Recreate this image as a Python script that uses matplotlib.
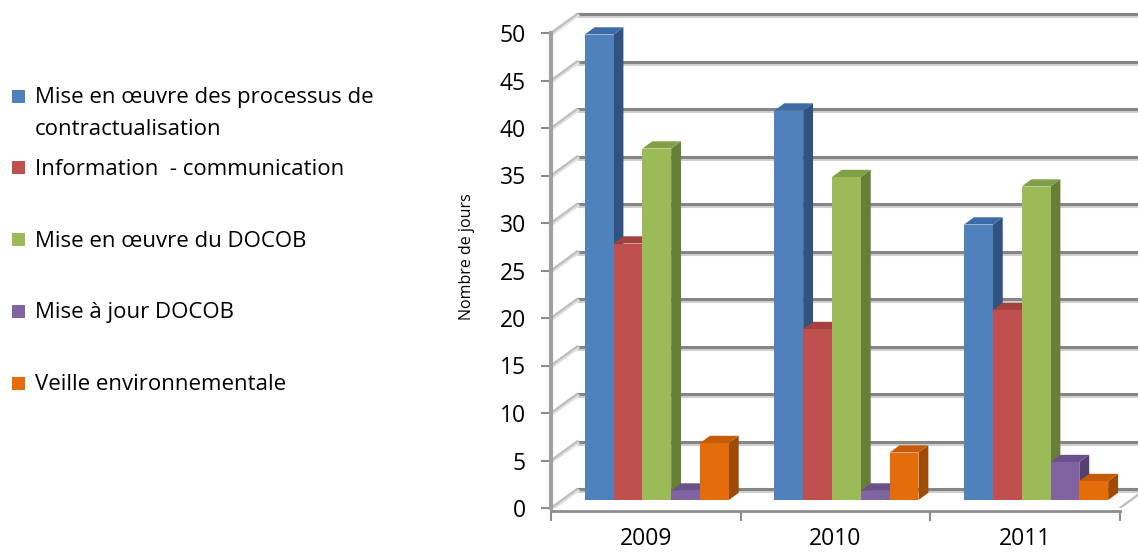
import matplotlib
matplotlib.use('Agg')
import matplotlib.pyplot as plt
from matplotlib.patches import Polygon, Rectangle
import matplotlib.patheffects as pe

# ---------------- data ----------------
categories = ['2009', '2010', '2011']
series_names = ['Mise en œuvre des processus de\ncontractualisation',
                'Information  - communication',
                'Mise en œuvre du DOCOB',
                'Mise à jour DOCOB',
                'Veille environnementale']
contractualisation = [49, 41, 29]
information_communication = [27, 18, 20]
mise_en_oeuvre_docob = [37, 34, 33]
mise_a_jour_docob = [1, 1, 4]
veille_environnementale = [6, 5, 2]
y_ticks = [0, 5, 10, 15, 20, 25, 30, 35, 40, 45, 50]
y_label = 'Nombre de jours'

series_values = [contractualisation, information_communication,
                 mise_en_oeuvre_docob, mise_a_jour_docob, veille_environnementale]

# colours: front, top, side
front_colors = ['#4F81BD', '#C0504D', '#9BBB59', '#8064A2', '#E46C0A']
top_colors = ['#3D6BA5', '#A5423F', '#809F46', '#6A518B', '#C65C07']
side_colors = ['#30537F', '#8A3532', '#687F3A', '#563F71', '#A04B05']

FONT = 'Open Sans'

# ---------------- layout ----------------
W, H = 1138, 552
fig = plt.figure(figsize=(W / 100, H / 100), dpi=100)
fig.patch.set_facecolor('white')

x0_px, x3_px = 551, 1120
y0_px, px_per_unit = 508, 9.5
unit_x = (x3_px - x0_px) / 3.0
ymax = 53.0
ax = fig.add_axes([x0_px / W, (H - y0_px) / H, (W - x0_px) / W,
                   ymax * px_per_unit / H])
ax.set_xlim(0, (W - x0_px) / unit_x)
ax.set_ylim(0, ymax)
ax.set_facecolor('none')

# 3-D depth offsets (data units)
DX, DY = 26 / unit_x, 19 / px_per_unit
f0, f1 = 0.42, 0.80
bw = 0.152
n_series = len(series_values)

grid_fx = [pe.SimpleLineShadow(offset=(0, -1.6), shadow_color='#cfcfcf', alpha=1.0),
           pe.Normal()]

# back wall gridlines and side wall diagonals
for t in y_ticks:
    ax.plot([DX, 3 + DX], [t + DY, t + DY], color='#858585', lw=2.2,
            solid_capstyle='butt', zorder=1, path_effects=grid_fx)
    ax.plot([0, DX], [t, t + DY], color='#bdbdbd', lw=1.6, zorder=1,
            path_effects=[pe.SimpleLineShadow(offset=(1, -1), shadow_color='#e0e0e0', alpha=1.0),
                          pe.Normal()])
ax.plot([3, 3 + DX], [0, DY], color='#bdbdbd', lw=1.6, zorder=1)

# bars
z = 3.0
for k in range(len(categories)):
    for s in range(n_series):
        v = series_values[s][k]
        xl = k + 0.5 - n_series * bw / 2 + s * bw
        xr = xl + bw
        ox0, oy0 = f0 * DX, f0 * DY
        ox1, oy1 = f1 * DX, f1 * DY
        side = [(xr + ox0, oy0), (xr + ox1, oy1), (xr + ox1, v + oy1), (xr + ox0, v + oy0)]
        top = [(xl + ox0, v + oy0), (xr + ox0, v + oy0), (xr + ox1, v + oy1), (xl + ox1, v + oy1)]
        front = [(xl + ox0, oy0), (xr + ox0, oy0), (xr + ox0, v + oy0), (xl + ox0, v + oy0)]
        ax.add_patch(Polygon(side, closed=True, facecolor=side_colors[s], edgecolor='none', zorder=z))
        ax.add_patch(Polygon(top, closed=True, facecolor=top_colors[s], edgecolor='none', zorder=z + 0.001))
        ax.add_patch(Polygon(front, closed=True, facecolor=front_colors[s], edgecolor='none', zorder=z + 0.002))
        z += 0.01

# axes styling
for sp in ['top', 'right']:
    ax.spines[sp].set_visible(False)
ax.spines['left'].set_bounds(0, 50)
ax.spines['left'].set_color('#a0a0a0')
ax.spines['left'].set_linewidth(3.0)
ax.spines['left'].set_zorder(2.6)
ax.spines['bottom'].set_bounds(0, 3)
ax.spines['bottom'].set_color('#8c8c8c')
ax.spines['bottom'].set_linewidth(2.0)
ax.spines['bottom'].set_position(('outward', 2))

ax.set_yticks(y_ticks)
ax.set_yticklabels([str(t) for t in y_ticks], fontsize=16.5, family=FONT)
ax.tick_params(axis='y', length=7, width=1.5, color='#8c8c8c', pad=11)

ax.set_xticks([0.5, 1.5, 2.5])
ax.set_xticklabels(categories, fontsize=16.5, family=FONT)
ax.set_xticks([0, 1, 2, 3], minor=True)
ax.tick_params(axis='x', which='major', length=0, pad=11.5)
ax.tick_params(axis='x', which='minor', length=7, width=1.5, color='#8c8c8c')

ax.set_ylabel(y_label, fontsize=11.5, family=FONT)
ax.yaxis.set_label_coords((475 - x0_px) / (W - x0_px), (y0_px - 257) / (ymax * px_per_unit))

# legend (drawn manually to mimic Excel's layout)
row_gap = 71.8
line_gap = 32.0
for i, name in enumerate(series_names):
    cy = 96 + row_gap * i
    fig.patches.append(Rectangle((12 / W, 1 - (cy + 6.5) / H), 13 / W, 13 / H,
                                 transform=fig.transFigure, facecolor=front_colors[i],
                                 edgecolor='none'))
    for j, line in enumerate(name.split('\n')):
        fig.text(35 / W, 1 - (cy + 7 + j * line_gap) / H, line, fontsize=16,
                 family=FONT, va='baseline', ha='left', color='#000000')

fig.savefig('out.png', dpi=100, facecolor='white')
